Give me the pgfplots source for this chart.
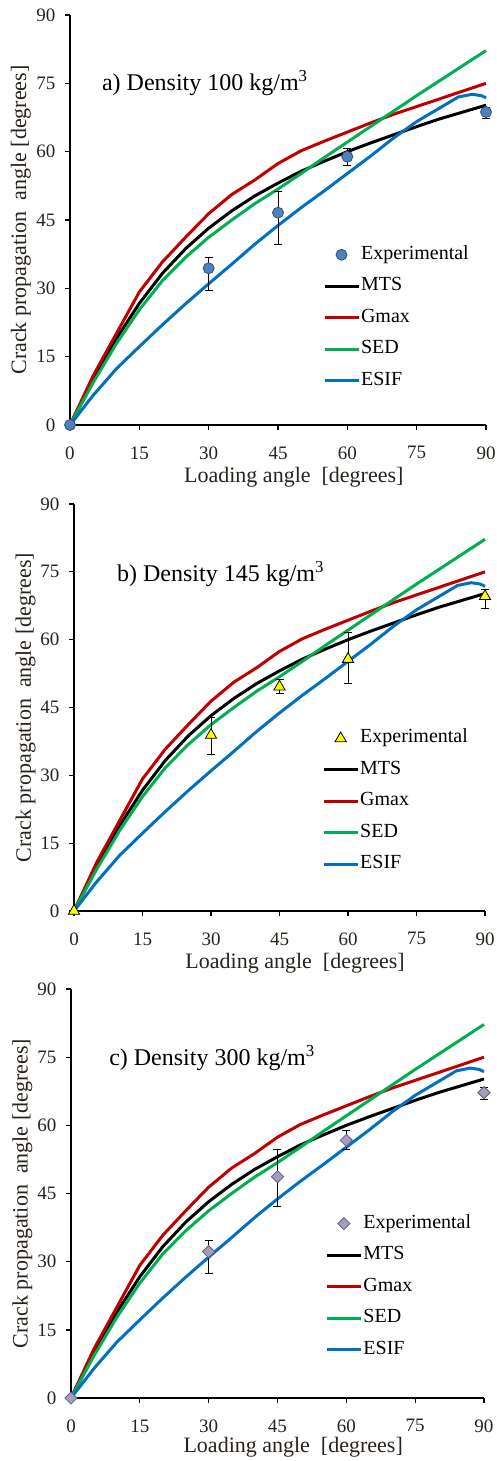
\documentclass[border=0pt]{standalone}
\usepackage{pgfplots}
\usepackage{pgfplotstable}
\pgfplotsset{compat=1.18}
\usepackage{fontspec}
\setmainfont{Liberation Serif}
\definecolor{cMTS}{RGB}{0,0,0}
\definecolor{cG}{RGB}{192,0,0}
\definecolor{cSED}{RGB}{0,176,80}
\definecolor{cESIF}{RGB}{0,112,192}
\definecolor{labc}{RGB}{40,34,28}
\definecolor{mblue}{RGB}{79,129,189}
\definecolor{mblueD}{RGB}{50,80,120}
\definecolor{myel}{RGB}{255,255,0}
\definecolor{mlav}{RGB}{165,155,195}
\definecolor{mlavD}{RGB}{100,95,125}

\pgfplotstableread{
x y
0 0
5 9.8
10 18.9
15 26.7
20 33.3
25 38.7
30 43.2
35 47.0
40 50.3
45 53.1
50 55.7
55 57.9
60 60.0
65 61.9
70 63.7
75 65.5
80 67.2
85 68.7
90 70.2
}\mts
\pgfplotstableread{
x y
0 0
5 10.8
10 20.0
15 29.2
20 35.8
25 41.2
30 46.4
35 50.6
40 53.8
45 57.4
50 60.2
55 62.3
60 64.3
65 66.3
70 68.2
75 69.9
80 71.6
85 73.3
90 75.0
}\gmax
\pgfplotstableread{
x y
0 0
5 9.3
10 17.8
15 25.3
20 31.7
25 36.8
30 41.2
35 45.0
40 48.6
45 51.8
50 55.2
55 58.7
60 62.1
65 65.5
70 68.9
75 72.3
80 75.6
85 78.9
90 82.2
}\sed
\pgfplotstableread{
x y
0 0
5 6.5
10 12.3
15 17.2
20 22.0
25 26.6
30 31.0
35 35.3
40 39.7
45 43.8
50 47.7
55 51.4
60 55.2
65 59.0
70 63.0
75 66.6
80 69.6
84 72.0
87 72.6
89 72.3
90 71.8
}\esif
\pgfplotstableread{
x y ep em
0 0 0 0
30 34.4 2.3 4.9
45 46.6 4.6 6.9
60 58.9 1.9 2.0
90 68.7 1.1 1.4
}\expa
\pgfplotstableread{
x y ep em
0 0 0 0
30 38.9 3.9 4.2
45 49.6 1.7 1.6
60 55.7 6.0 5.4
90 69.6 1.4 2.7
}\expb
\pgfplotstableread{
x y ep em
0 0 0 0
30 32.2 2.5 4.7
45 48.7 6.1 6.6
60 56.7 2.2 1.9
90 67.2 1.1 1.5
}\expc

\pgfplotsset{
  lineleg/.style={legend image code/.code={\draw[##1] (0pt,0pt) -- (34pt,0pt);}},
  markleg/.style={legend image code/.code={\draw[##1] plot coordinates {(17pt,0pt)};}},
  panel/.style={
    scale only axis, xmin=0, xmax=90, ymin=0, ymax=90,
    xtick={0,15,...,90}, ytick={0,15,...,90},
    axis x line*=bottom, axis y line*=left,
    axis line style={-, line width=1.6pt, black},
    tick align=outside, major tick length=5pt,
    tick style={line width=1.3pt, black},
    /pgf/number format/assume math mode=true,
    ticklabel style={font=\fontsize{19}{19}\selectfont, text=labc},
    xticklabel style={yshift=-13pt},
    yticklabel style={xshift=-6pt},
    label style={font=\fontsize{22}{22}\selectfont, text=labc},
    xlabel={Loading angle~ [degrees]},
    ylabel={Crack propagation~ angle [degrees]},
    xlabel style={at={(axis description cs:0.538,-0.128)}, anchor=center},
    ylabel style={at={(axis description cs:-0.118,0.5)}, anchor=center},
    clip=false,
    legend cell align=left,
    legend style={draw=none, fill=none, inner sep=0pt,
      font=\fontsize{20}{20}\selectfont, text=black,
      nodes={inner sep=0pt, inner xsep=1pt, text height=14pt, text depth=5pt},
      row sep=12.5pt,
      /tikz/every even column/.append style={column sep=0pt}},
    every axis plot/.append style={line width=3pt},
  },
  errs/.style={error bars/.cd, y dir=both, y explicit,
    error bar style={black, line width=0.9pt},
    error mark options={rotate=90, mark size=4pt, black, line width=0.9pt}},
}

\begin{document}
\begin{tikzpicture}
\useasboundingbox (0,0) rectangle (497pt,-1461pt);

% ---------- a ----------
\begin{axis}[panel, at={(70pt,-425pt)}, anchor=south west, width=416pt, height=410pt,
  legend style={at={(axis cs:54.7,39.5)}, anchor=north west}]
\addlegendimage{markleg, only marks, mark=*, mark size=5.5pt, mark options={fill=mblue, draw=mblueD, line width=0.8pt}}
\addlegendentry{Experimental}
\addplot[lineleg, cMTS, no marks] table[x=x,y=y] {\mts}; \addlegendentry{MTS}
\addplot[lineleg, cG, no marks] table[x=x,y=y] {\gmax}; \addlegendentry{Gmax}
\addplot[lineleg, cSED, no marks] table[x=x,y=y] {\sed}; \addlegendentry{SED}
\addplot[lineleg, cESIF, no marks] table[x=x,y=y] {\esif}; \addlegendentry{ESIF}
\addplot[forget plot, only marks, mark=*, mark size=5.5pt, mark options={fill=mblue, draw=mblueD, line width=0.8pt}, errs]
  table[x=x, y=y, y error plus=ep, y error minus=em] {\expa};
\node[anchor=west, inner sep=0pt, font=\fontsize{24}{24}\selectfont] at (axis cs:6.9,75) {a) Density 100 kg/m\textsuperscript{3}};
\end{axis}

% ---------- b ----------
\begin{axis}[panel, at={(74pt,-911pt)}, anchor=south west, width=411pt, height=407pt,
  legend style={at={(axis cs:54.3,40.3)}, anchor=north west}]
\addlegendimage{markleg, only marks, mark=triangle*, mark size=6.5pt, mark options={fill=myel, draw=black, line width=0.8pt}}
\addlegendentry{Experimental}
\addplot[lineleg, cMTS, no marks] table[x=x,y=y] {\mts}; \addlegendentry{MTS}
\addplot[lineleg, cG, no marks] table[x=x,y=y] {\gmax}; \addlegendentry{Gmax}
\addplot[lineleg, cSED, no marks] table[x=x,y=y] {\sed}; \addlegendentry{SED}
\addplot[lineleg, cESIF, no marks] table[x=x,y=y] {\esif}; \addlegendentry{ESIF}
\addplot[forget plot, only marks, mark=triangle*, mark size=6.5pt, mark options={fill=myel, draw=black, line width=0.8pt}, errs]
  table[x=x, y=y, y error plus=ep, y error minus=em] {\expb};
\node[anchor=west, inner sep=0pt, font=\fontsize{24}{24}\selectfont] at (axis cs:9.4,74.6) {b) Density 145 kg/m\textsuperscript{3}};
\end{axis}

% ---------- c ----------
\begin{axis}[panel, at={(71pt,-1398pt)}, anchor=south west, width=413pt, height=409pt,
  xlabel style={at={(axis description cs:0.538,-0.121)}, anchor=center},
  legend style={at={(axis cs:55.4,40.5)}, anchor=north west}]
\addlegendimage{markleg, only marks, mark=square*, mark size=4.3pt, mark options={rotate=45, fill=mlav, draw=mlavD, line width=0.8pt}}
\addlegendentry{Experimental}
\addplot[lineleg, cMTS, no marks] table[x=x,y=y] {\mts}; \addlegendentry{MTS}
\addplot[lineleg, cG, no marks] table[x=x,y=y] {\gmax}; \addlegendentry{Gmax}
\addplot[lineleg, cSED, no marks] table[x=x,y=y] {\sed}; \addlegendentry{SED}
\addplot[lineleg, cESIF, no marks] table[x=x,y=y] {\esif}; \addlegendentry{ESIF}
\addplot[forget plot, only marks, mark=square*, mark size=4.3pt, mark options={rotate=45, fill=mlav, draw=mlavD, line width=0.8pt}, errs]
  table[x=x, y=y, y error plus=ep, y error minus=em] {\expc};
\node[anchor=west, inner sep=0pt, font=\fontsize{24}{24}\selectfont] at (axis cs:8.3,74.8) {c) Density 300 kg/m\textsuperscript{3}};
\end{axis}
\end{tikzpicture}
\end{document}
